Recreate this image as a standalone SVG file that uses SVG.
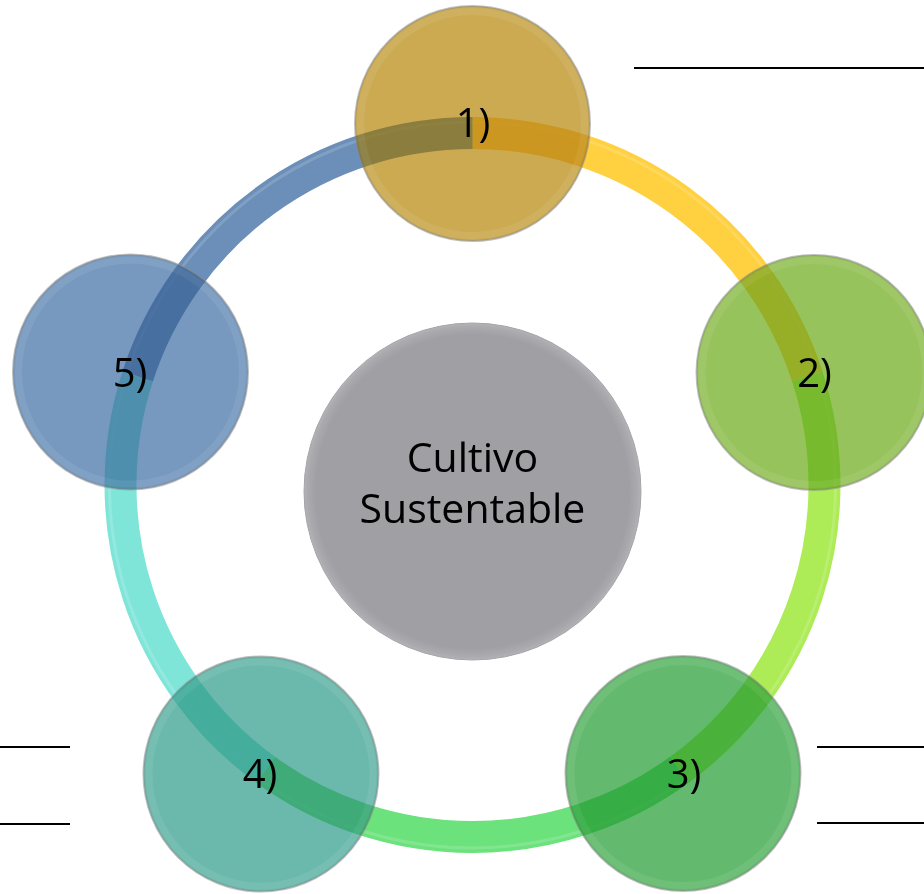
<svg xmlns="http://www.w3.org/2000/svg" width="924" height="894" viewBox="0 0 924 894">
  <style>
    .lbl { font-family: "Open Sans", "Liberation Sans", sans-serif; font-size: 40px; fill: #000; text-anchor: middle; }
    .big { font-size: 41px; }
    .node { stroke: #8a8a8a; stroke-opacity: 0.55; stroke-width: 2; }
    .rim { fill: none; stroke: #ffffff; stroke-opacity: 0.08; stroke-width: 7; }
    .arc { fill: none; stroke-width: 32; stroke-linecap: butt; }
    .hl { fill: none; stroke: #ffffff; stroke-opacity: 0.15; stroke-width: 3; }
    .blank { stroke: #000; stroke-width: 2; }
  </style>
  <defs>
    <g id="ringShape">
      <path class="arc" stroke="#FFD03F" d="M472.5,133 A352,352 0 0 1 807.27,376.23"/>
      <path class="arc" stroke="#ADEC57" d="M807.27,376.23 A352,352 0 0 1 679.4,769.77"/>
      <path class="arc" stroke="#6BE27C" d="M679.4,769.77 A352,352 0 0 1 265.6,769.77"/>
      <path class="arc" stroke="#80E5D9" d="M265.6,769.77 A352,352 0 0 1 137.73,376.23"/>
      <path class="arc" stroke="#6B8FB8" d="M137.73,376.23 A352,352 0 0 1 472.5,133"/>
    </g>
    <clipPath id="nodeClip">
      <circle cx="472.5" cy="123.5" r="117.5"/>
      <circle cx="814" cy="372.5" r="117.5"/>
      <circle cx="683" cy="773.5" r="117.5"/>
      <circle cx="261" cy="774" r="117.5"/>
      <circle cx="130.5" cy="372" r="117.5"/>
    </clipPath>
    <radialGradient id="centerGrad" cx="0.5" cy="0.5" r="0.5">
      <stop offset="0.93" stop-color="#A09FA4"/>
      <stop offset="0.98" stop-color="#ABABAF"/>
      <stop offset="1" stop-color="#B4B4B8"/>
    </radialGradient>
  </defs>

  <g id="blanks">
    <line class="blank" x1="634" y1="68" x2="924" y2="68"/>
    <line class="blank" x1="0" y1="747" x2="70" y2="747"/>
    <line class="blank" x1="0" y1="824" x2="70" y2="824"/>
    <line class="blank" x1="817" y1="747" x2="924" y2="747"/>
    <line class="blank" x1="817" y1="823" x2="924" y2="823"/>
  </g>

  <g id="connectors">
    <use href="#ringShape"/>
    <circle class="hl" cx="472.5" cy="485" r="363"/>
  </g>

  <g id="node1">
    <circle class="node" cx="472.5" cy="123.5" r="117.5" fill="#BE9527" fill-opacity="0.8"/>
    <circle class="rim" cx="472.5" cy="123.5" r="112"/>
  </g>
  <g id="node2">
    <circle class="node" cx="814" cy="372.5" r="117.5" fill="#7DB433" fill-opacity="0.8"/>
    <circle class="rim" cx="814" cy="372.5" r="112"/>
  </g>
  <g id="node3">
    <circle class="node" cx="683" cy="773.5" r="117.5" fill="#3CA94A" fill-opacity="0.8"/>
    <circle class="rim" cx="683" cy="773.5" r="112"/>
  </g>
  <g id="node4">
    <circle class="node" cx="261" cy="774" r="117.5" fill="#46A697" fill-opacity="0.8"/>
    <circle class="rim" cx="261" cy="774" r="112"/>
  </g>
  <g id="node5">
    <circle class="node" cx="130.5" cy="372" r="117.5" fill="#5580AF" fill-opacity="0.8"/>
    <circle class="rim" cx="130.5" cy="372" r="112"/>
  </g>

  <g id="ringShade" clip-path="url(#nodeClip)" style="mix-blend-mode:multiply" opacity="0.35">
    <use href="#ringShape"/>
  </g>

  <g id="labels">
    <text class="lbl" x="473" y="137">1)</text>
    <text class="lbl" x="814.5" y="387">2)</text>
    <text class="lbl" x="684" y="788">3)</text>
    <text class="lbl" x="260" y="788">4)</text>
    <text class="lbl" x="130" y="387">5)</text>
  </g>

  <g id="center">
    <circle cx="472.5" cy="491.5" r="168.5" fill="url(#centerGrad)" stroke="#a4a4a8" stroke-width="1"/>
    <text class="lbl big" x="472.5" y="472">Cultivo</text>
    <text class="lbl big" x="472.5" y="523">Sustentable</text>
  </g>
</svg>
